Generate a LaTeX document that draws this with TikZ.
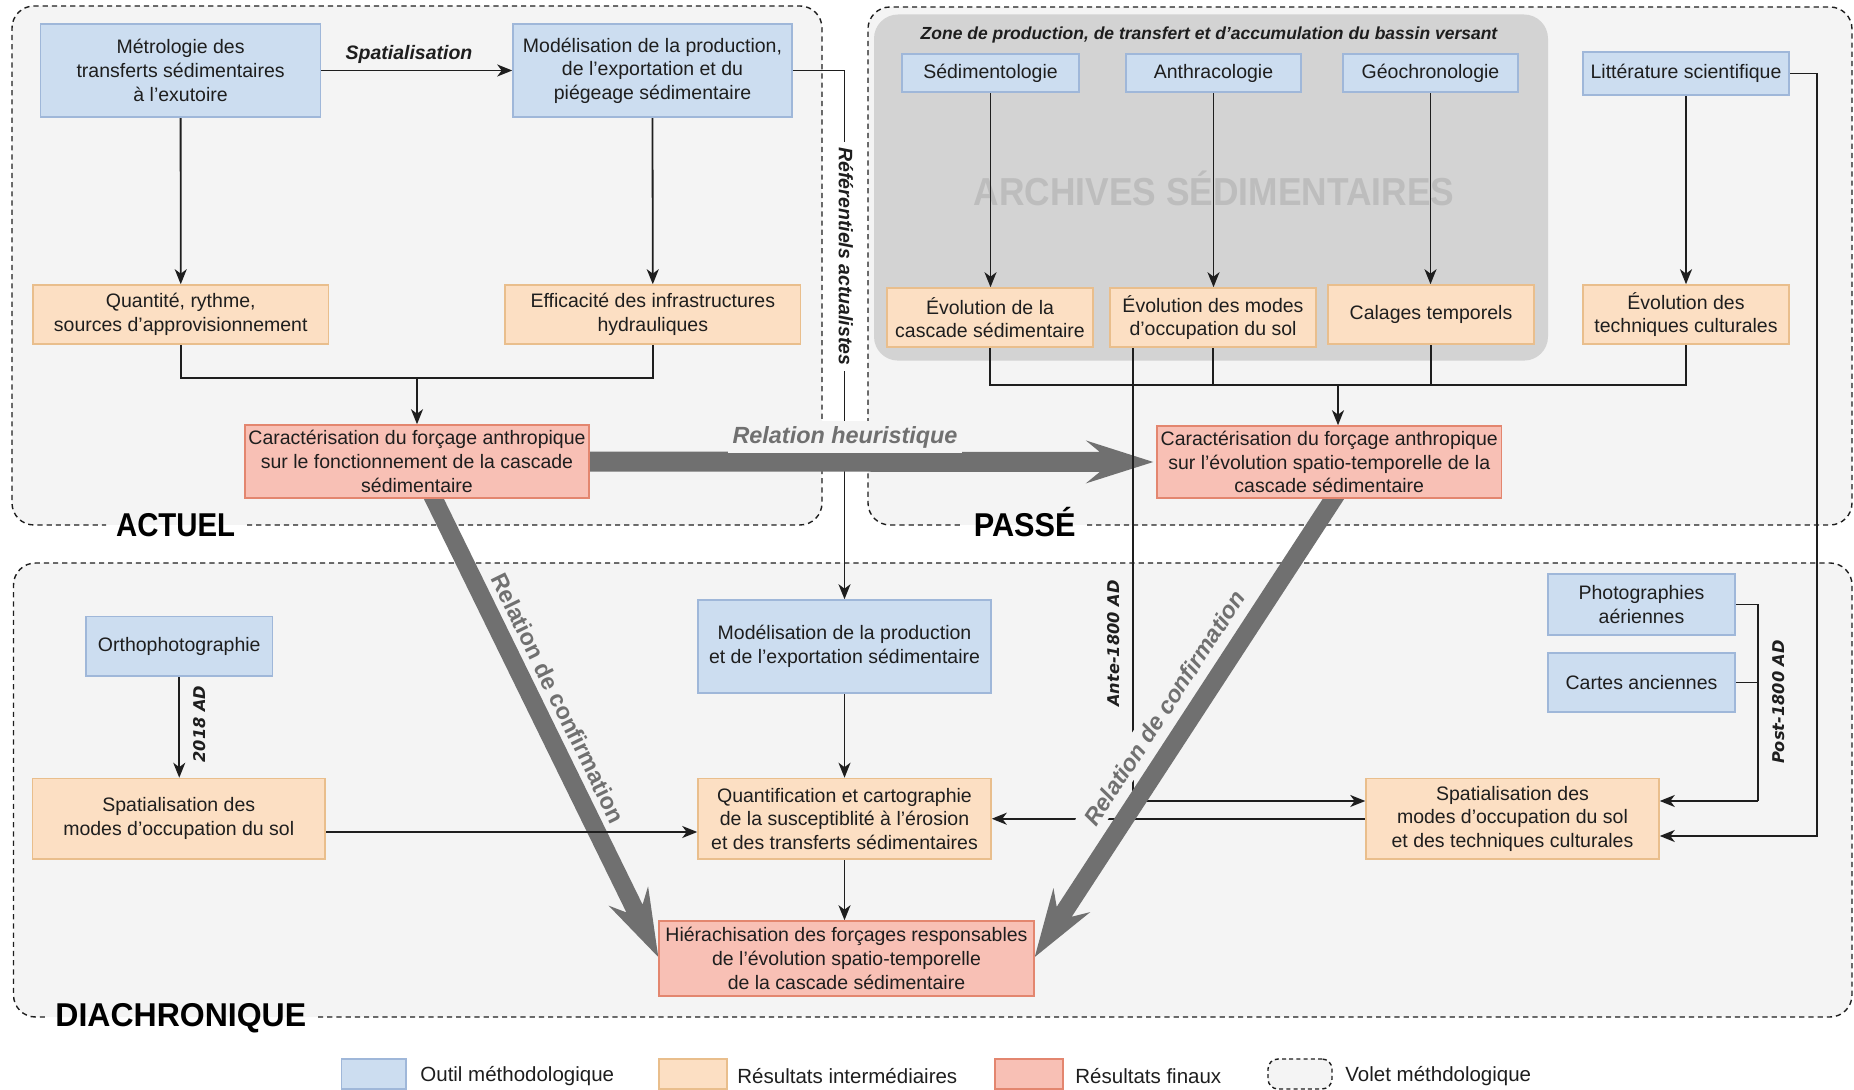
\documentclass[tikz,border=0pt]{standalone}
\usepackage{fontspec}
\setmainfont{Liberation Sans}
\newfontfamily\dejavu{DejaVu Sans}
\usetikzlibrary{arrows.meta,calc}
\definecolor{bluef}{HTML}{CCDDF0}
\definecolor{blued}{HTML}{9FB7D9}
\definecolor{orf}{HTML}{FCDFC3}
\definecolor{ord}{HTML}{E9BE8C}
\definecolor{redf}{HTML}{F8C0B5}
\definecolor{redd}{HTML}{E3866F}
\definecolor{panel}{HTML}{F4F4F4}
\definecolor{archive}{HTML}{D3D3D3}
\definecolor{bigarrow}{HTML}{707070}
\definecolor{wmark}{HTML}{BDBDBD}
\definecolor{ink}{HTML}{1E1E1E}
\pgfdeclarelayer{back}
\pgfdeclarelayer{conn}
\pgfsetlayers{back,conn,main}
\newcommand{\mybox}[7]{\node[#1, minimum width={(#4-#2)*0.5pt}, minimum height={(#5-#3)*0.5pt}] (#6) at ({(#2+#4)/2},{(#3+#5)/2}) {#7};}
\newcommand{\fatarrow}[6]{%
  \coordinate (#1n) at ($(#2)!#4-#6!(#1)$);
  \coordinate (#1b) at ($(#2)!#4!(#1)$);
  \fill[bigarrow] ($(#1)!#3!90:(#2)$) -- ($(#1n)!#3!90:(#2)$) -- ($(#1b)!#5!90:(#2)$) -- (#2)
     -- ($(#1b)!#5!-90:(#2)$) -- ($(#1n)!#3!-90:(#2)$) -- ($(#1)!#3!-90:(#2)$) -- cycle;}
\tikzset{
 base/.style={draw, line width=0.75pt, align=center, inner sep=0pt, text=ink, font=\fontsize{9.75}{11.8}\selectfont},
 tool/.style={base, fill=bluef, draw=blued},
 inter/.style={base, fill=orf, draw=ord},
 final/.style={base, fill=redf, draw=redd},
 legv/.style={draw=ink, line width=0.7pt, dash pattern=on 2pt off 1.6pt, fill=panel, rounded corners=5pt},
 arr/.style={draw=ink, line width=0.9pt, -{Stealth[length=7.5pt,width=6pt,inset=2.2pt]}},
 ln/.style={draw=ink, line width=0.9pt},
 panelborder/.style={draw=ink, line width=0.7pt, dash pattern=on 2.6pt off 2pt, rounded corners=11pt},
 panellab/.style={font=\bfseries\fontsize{16.5}{18}\selectfont, text=black, inner sep=0pt, anchor=base},
 edgelab/.style={font=\bfseries\itshape\fontsize{9.75}{11.8}\selectfont, text=ink, inner sep=1.5pt},
 adlab/.style={font=\dejavu\bfseries\itshape\fontsize{8.1}{9}\selectfont, text=ink, inner sep=0pt, rotate=90},
 biglab/.style={font=\bfseries\fontsize{11.7}{13}\selectfont, text=bigarrow, fill=panel, inner sep=2.5pt},
 leglab/.style={font=\fontsize{10.25}{12}\selectfont, text=ink, anchor=west, inner sep=0pt},
}
\begin{document}
\begin{tikzpicture}[x=0.5pt,y=-0.5pt]
\useasboundingbox (0,0) rectangle (1854,1090);

% ---------- boxes ----------
\mybox{tool}{40.5}{24}{320.7}{117}{metro}{Métrologie des\\transferts sédimentaires\\à l’exutoire}
\mybox{tool}{513}{24}{792}{117}{modA}{Modélisation de la production,\\de l’exportation et du\\piégeage sédimentaire}
\mybox{inter}{33}{285}{328.5}{344}{quant}{Quantité, rythme,\\sources d’approvisionnement}
\mybox{inter}{505}{285}{800.6}{344}{effic}{Efficacité des infrastructures\\hydrauliques}
\mybox{final}{245}{425}{589}{498}{caractA}{Caractérisation du forçage anthropique\\sur le fonctionnement de la cascade\\sédimentaire}

\mybox{tool}{902}{54}{1079}{92}{sedim}{Sédimentologie}
\mybox{tool}{1126}{54}{1301}{92}{anthr}{Anthracologie}
\mybox{tool}{1343}{54}{1518}{92}{geoch}{Géochronologie}
\mybox{tool}{1583}{52}{1789}{95}{litt}{Littérature scientifique}
\mybox{inter}{887}{288}{1093}{347}{evoCasc}{Évolution de la\\cascade sédimentaire}
\mybox{inter}{1110}{288}{1316}{347}{evoModes}{Évolution des modes\\d’occupation du sol}
\mybox{inter}{1328}{285}{1534}{344}{calages}{Calages temporels}
\mybox{inter}{1583}{285}{1789}{344}{evoTech}{Évolution des\\techniques culturales}
\mybox{final}{1157}{426}{1501.5}{498}{caractP}{Caractérisation du forçage anthropique\\sur l’évolution spatio-temporelle de la\\cascade sédimentaire}

\mybox{tool}{86}{616.5}{272.5}{676}{ortho}{Orthophotographie}
\mybox{inter}{32.5}{778.5}{325}{859}{spatL}{Spatialisation des\\modes d’occupation du sol}
\mybox{tool}{698}{600}{991}{693}{modD}{Modélisation de la production\\et de l’exportation sédimentaire}
\mybox{inter}{698}{778.5}{991}{859}{quantif}{Quantification et cartographie\\de la susceptiblité à l’érosion\\et des transferts sédimentaires}
\mybox{final}{659}{921}{1034}{996}{hier}{Hiérachisation des forçages responsables\\de l’évolution spatio-temporelle\\de la cascade sédimentaire}
\mybox{tool}{1548}{574}{1735}{635}{photo}{Photographies\\aériennes}
\mybox{tool}{1548}{653}{1735}{712}{cartes}{Cartes anciennes}
\mybox{inter}{1366}{778.5}{1659}{859}{spatR}{Spatialisation des\\modes d’occupation du sol\\et des techniques culturales}

% ---------- legend ----------
\mybox{tool}{341.5}{1059}{406}{1089}{legT}{}
\mybox{inter}{659}{1059}{727}{1089}{legI}{}
\mybox{final}{995}{1059}{1063}{1089}{legF}{}
\mybox{legv}{1268}{1059}{1332}{1089}{legV}{}
\node[leglab] (legTt) at (420,1076) {Outil méthodologique};
\node[leglab] (legIt) at (737,1076) {Résultats intermédiaires};
\node[leglab] (legFt) at (1075,1076) {Résultats finaux};
\node[leglab] (legVt) at (1345,1076) {Volet méthdologique};

% ---------- background panels ----------
\begin{pgfonlayer}{back}
\fill[panel, rounded corners=11pt] (12,6) rectangle (822,525);
\fill[panel, rounded corners=11pt] (868,7) rectangle (1852,525);
\fill[panel, rounded corners=11pt] (13.5,563) rectangle (1852,1017);
\draw[panelborder] (247,525) -- (822,525) -- (822,6) -- (12,6) -- (12,525) -- (106,525);
\draw[panelborder] (1087,525) -- (1852,525) -- (1852,7) -- (868,7) -- (868,525) -- (963,525);
\draw[panelborder] (318,1017) -- (1852,1017) -- (1852,563) -- (13.5,563) -- (13.5,1017) -- (45,1017);
\node[panellab] (actuel) at (175.6,537) {\scalebox{0.89}[1]{ACTUEL}};
\node[panellab] (passe) at (1024.7,537) {\scalebox{0.93}[1]{PASSÉ}};
\node[panellab] (diachro) at (180.8,1026) {\scalebox{0.97}[1]{DIACHRONIQUE}};
\fill[archive, rounded corners=12pt] (874,14.5) rectangle (1548,360.6);
\node[font=\bfseries\fontsize{19.5}{21}\selectfont, text=wmark, inner sep=0pt] (wm) at (1214,188) {\scalebox{0.906}[1]{ARCHIVES SÉDIMENTAIRES}};
\node[font=\bfseries\itshape\fontsize{8.75}{10}\selectfont, text=ink, inner sep=0pt] (zone) at (1209,34.5) {Zone de production, de transfert et d’accumulation du bassin versant};
\end{pgfonlayer}

% ---------- connectors ----------
\begin{pgfonlayer}{conn}
% referentiels actualistes
\draw[arr] (modA.east) -| (modD.north);
\node[edgelab, rotate=-90, fill=white, inner sep=3pt] (refl) at (846,256.5) {Référentiels actualistes};
% heuristic relation
\coordinate (hS) at ($(caractA.east)+(-10,0)$);
\coordinate (hT) at ($(caractP.west)+(-3,0)$);
\fatarrow{hS}{hT}{5pt}{33.75pt}{10.75pt}{7pt}
\node[biglab, font=\bfseries\itshape\fontsize{11.7}{13}\selectfont] (heur) at (845,437) {Relation heuristique};
% ante-1800
\coordinate (a2) at (1132.6,801);
\draw[arr] (evoModes.south -| a2) -- (a2) -- (spatR.west |- a2);
\node[adlab] (antelab) at (1114,643.6) {Ante-1800 AD};
\draw[arr] (spatR.west) -- (quantif.east);
% confirmation labels and arrows
\node[biglab, rotate=-63.9] (confL) at (558,698) {Relation de confirmation};
\node[biglab, rotate=56.8, font=\bfseries\itshape\fontsize{11.7}{13}\selectfont] (confR) at (1164.5,708) {Relation de confirmation};
\coordinate (cLS) at (429,489);
\coordinate (cLT) at (hier.west |- 0,957);
\fatarrow{cLS}{cLT}{4.5pt}{34pt}{11pt}{7pt}
\coordinate (cRS) at (1339.5,489.6);
\coordinate (cRT) at (hier.east |- 0,957);
\fatarrow{cRS}{cRT}{4.5pt}{34pt}{11pt}{7pt}
% left spatialisation to quantification
\coordinate (sl) at (325,832);
\draw[arr] (spatL.east |- sl) -- (quantif.west |- sl);
% actuel
\draw[arr] (metro.east) -- (modA.west);
\node[edgelab] (spatlab) at (409,54) {Spatialisation};
\draw[arr] (metro.south) -- (quant.north);
\draw[arr] (modA.south) -- (effic.north);
\coordinate (jA) at (417,378);
\draw[ln] (quant.south) |- (jA) -| (effic.south);
\draw[arr] (jA) -- (caractA.north);
% passe
\draw[arr] (sedim.south) -- (evoCasc.north -| sedim.south);
\draw[arr] (anthr.south) -- (evoModes.north -| anthr.south);
\draw[arr] (geoch.south) -- (calages.north -| geoch.south);
\draw[arr] (litt.south) -- (evoTech.north);
\coordinate (jP) at (1338,385);
\draw[ln] (evoCasc.south) |- (evoTech.south |- jP) -- (evoTech.south);
\draw[ln] (evoModes.south) -- (evoModes.south |- jP);
\draw[ln] (calages.south) -- (calages.south |- jP);
\draw[arr] (jP) -- (caractP.north -| jP);
% diachronique
\draw[arr] (ortho.south) -- (spatL.north -| ortho.south);
\node[adlab] (l2018) at (200,724) {2018 AD};
\draw[arr] (modD.south) -- (quantif.north);
\draw[arr] (quantif.south) -- (quantif.south |- hier.north);
\coordinate (pb) at (1758,801);
\draw[ln] (photo.east) -| (pb);
\draw[ln] (cartes.east) -- (cartes.east -| pb);
\draw[arr] (pb) -- (spatR.east |- pb);
\node[adlab] (postlab) at (1779,702) {Post-1800 AD};
\coordinate (lb) at (1817,836);
\draw[arr] (litt.east) -| (lb) -- (spatR.east |- lb);
\end{pgfonlayer}
\end{tikzpicture}
\end{document}
